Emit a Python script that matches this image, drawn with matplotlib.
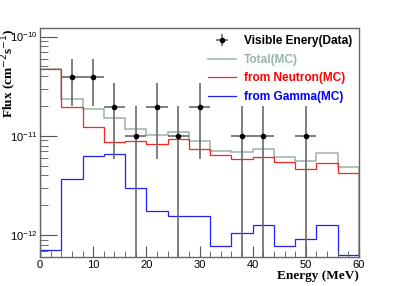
import numpy as np
import matplotlib.pyplot as plt
from matplotlib.ticker import MultipleLocator, LogLocator, NullFormatter

# bin edges (MeV) and MC histograms
edges = np.arange(0, 61, 4)
total = [4.70e-11, 2.38e-11, 1.86e-11, 1.51e-11, 1.17e-11, 1.02e-11, 1.09e-11, 8.97e-12,
         7.11e-12, 6.90e-12, 7.40e-12, 6.10e-12, 5.60e-12, 6.70e-12, 4.91e-12]
neutron = [4.70e-11, 1.97e-11, 1.23e-11, 8.71e-12, 8.85e-12, 8.36e-12, 9.27e-12, 7.40e-12,
           6.44e-12, 5.90e-12, 6.10e-12, 5.47e-12, 4.62e-12, 5.38e-12, 4.27e-12]
gamma = [7.1e-13, 3.69e-12, 6.34e-12, 6.55e-12, 2.97e-12, 1.77e-12, 1.55e-12, 1.55e-12,
         7.76e-13, 1.06e-12, 1.28e-12, 7.76e-13, 9.19e-13, 1.28e-12, 6.38e-13]

# data points (Poisson-like errors)
data_x = [6, 10, 14, 18, 22, 26, 30, 38, 42, 50]
data_y = [3.95e-11, 3.95e-11, 1.97e-11, 9.9e-12, 1.97e-11, 9.9e-12, 1.97e-11, 9.9e-12, 9.9e-12, 9.9e-12]
err_up = [1.95e-11, 1.95e-11, 1.41e-11, 9.9e-12, 1.41e-11, 9.9e-12, 1.41e-11, 9.9e-12, 9.9e-12, 9.9e-12]
err_lo = [1.95e-11, 1.95e-11, 1.39e-11, 9.9e-12, 1.39e-11, 9.9e-12, 1.39e-11, 9.9e-12, 9.9e-12, 9.9e-12]

fig = plt.figure(figsize=(3.99, 2.86), dpi=100)
ax = fig.add_axes([0.1003, 0.1014, 0.7994, 0.8007])

col_total = '#9ab4aa'
ax.stairs(total, edges, color=col_total, lw=1.1, label='Total(MC)')
ax.stairs(neutron, edges, color='#ff2020', lw=0.9, label='from Neutron(MC)')
ax.stairs(gamma, edges, color='#2020ff', lw=0.9, label='from Gamma(MC)')
ax.errorbar(data_x, data_y, yerr=[err_lo, err_up], xerr=2, fmt='o', color='black',
            ms=3, ecolor='#6a6a6a', elinewidth=1.2, capsize=0, label='Visible Enery(Data)')

ax.set_yscale('log')
ax.set_xlim(0, 60)
ax.set_ylim(6.05e-13, 1.22e-10)

ax.xaxis.set_major_locator(MultipleLocator(10))
ax.xaxis.set_minor_locator(MultipleLocator(2))
ax.yaxis.set_major_locator(LogLocator(base=10))
ax.yaxis.set_minor_locator(LogLocator(base=10, subs=np.arange(2, 10)))
ax.yaxis.set_minor_formatter(NullFormatter())
ax.tick_params(which='both', direction='in', top=False, right=False, labelsize=8,
               color='#555555', pad=2)
ax.tick_params(which='major', length=8)
ax.tick_params(which='minor', length=4)
ax.tick_params(axis='y', which='major', length=12)
ax.tick_params(axis='y', which='minor', length=6)
for s in ax.spines.values():
    s.set_color('#666666')
    s.set_linewidth(1.0)

for lab in ax.get_xticklabels() + ax.get_yticklabels():
    lab.set_family('Liberation Sans')

ax.set_xlabel('Energy (MeV)', family='Liberation Serif', weight='bold', fontsize=9.5,
              loc='right', labelpad=0)
fig.text(0.025, 0.9, 'Flux (cm$^{-2}$s$^{-1}$)', family='Liberation Serif', weight='bold',
         fontsize=9.5, rotation=90, ha='center', va='top')

h, l = ax.get_legend_handles_labels()
order = [3, 0, 1, 2]
leg = ax.legend([h[i] for i in order], [l[i] for i in order], loc='upper right',
                frameon=False, prop={'family': 'Liberation Sans', 'weight': 'bold', 'size': 8.6},
                handlelength=2.4, handletextpad=0.6, labelspacing=0.55, borderaxespad=0.2)
for txt, c in zip(leg.get_texts(), ['black', col_total, '#ff0000', '#0000ff']):
    txt.set_color(c)

fig.savefig('out.png', dpi=100)
